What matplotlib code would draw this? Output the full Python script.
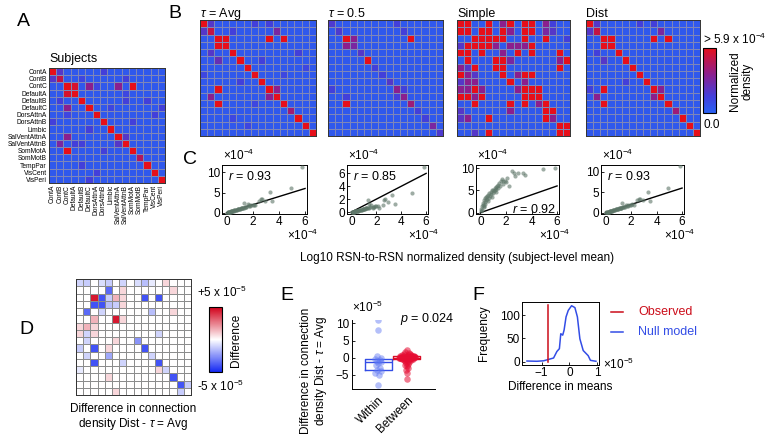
import numpy as np
import matplotlib
matplotlib.use('Agg')
import matplotlib.pyplot as plt
from matplotlib.colors import LinearSegmentedColormap, Normalize
from matplotlib.cm import ScalarMappable

plt.rcParams['font.family'] = ['Liberation Sans', 'DejaVu Sans']
plt.rcParams['mathtext.fontset'] = 'custom'
plt.rcParams['mathtext.rm'] = 'Liberation Sans'
plt.rcParams['mathtext.it'] = 'Liberation Sans:italic'
plt.rcParams['xtick.direction'] = 'in'
plt.rcParams['ytick.direction'] = 'in'
plt.rcParams['xtick.major.size'] = 2.5
plt.rcParams['ytick.major.size'] = 2.5
plt.rcParams['xtick.major.width'] = 0.6
plt.rcParams['ytick.major.width'] = 0.6
plt.rcParams['axes.linewidth'] = 0.7

# ---------------- data ----------------
networks = ['ContA', 'ContB', 'ContC', 'DefaultA', 'DefaultB', 'DefaultC', 'DorsAttnA',
            'DorsAttnB', 'Limbic', 'SalVentAttnA', 'SalVentAttnB', 'SomMotA', 'SomMotB',
            'TempPar', 'VisCent', 'VisPeri']

# normalized density, units of 1e-5 (colour scale saturates at 59)
subjects = [
    [60,20,4,4,4,4,4,15,4,4,4,4,4,4,4,4],
    [20,48,4,4,12,4,4,4,4,4,15,4,4,4,4,4],
    [4,4,60,55,4,35,12,4,4,35,4,60,4,4,4,4],
    [4,4,55,60,4,4,4,4,4,4,12,4,4,4,4,4],
    [4,15,4,4,60,4,4,4,4,4,15,4,4,15,4,4],
    [4,4,35,4,4,60,4,4,12,4,4,4,4,4,4,15],
    [4,4,12,4,4,4,60,4,4,4,4,4,4,4,15,4],
    [15,4,4,4,4,4,4,60,4,4,4,15,4,4,4,4],
    [4,4,4,4,4,15,4,4,60,4,4,4,4,4,4,4],
    [4,4,35,4,4,4,4,4,4,60,20,4,4,4,4,4],
    [4,30,4,15,15,4,4,4,4,20,60,4,4,4,4,4],
    [4,4,60,4,4,4,4,15,4,4,4,60,4,4,4,4],
    [4,4,4,4,4,4,4,4,4,4,4,4,45,4,4,4],
    [4,4,4,4,15,4,4,4,4,4,4,4,4,60,4,4],
    [4,4,4,4,4,4,15,4,4,4,4,4,4,4,60,4],
    [4,4,4,4,4,15,4,4,4,4,4,4,4,4,4,60]]

tau_avg = [
    [60,20,4,4,4,4,4,15,4,15,4,4,4,4,4,4],
    [20,50,4,4,15,4,4,4,4,4,30,4,4,4,4,4],
    [4,4,60,60,4,4,4,4,4,60,4,60,4,4,4,4],
    [4,4,60,60,4,4,4,4,4,4,4,4,4,4,4,4],
    [4,20,4,4,60,4,4,4,4,4,4,4,4,15,4,4],
    [4,4,25,4,4,60,4,4,15,4,4,4,4,4,4,4],
    [4,4,4,4,4,4,60,4,4,4,4,4,4,4,12,4],
    [12,4,4,4,4,4,4,60,4,4,4,12,4,4,4,4],
    [4,4,4,4,4,15,4,4,60,4,4,4,4,4,4,4],
    [4,4,60,4,4,4,4,4,4,60,35,4,4,4,4,4],
    [4,35,4,4,4,4,4,4,4,35,60,4,4,4,4,4],
    [4,4,60,4,4,4,4,12,4,4,4,60,4,4,4,4],
    [4,4,4,4,4,4,4,4,4,4,4,4,40,4,4,4],
    [4,4,4,4,12,4,4,4,4,4,4,4,4,60,4,4],
    [4,4,4,4,4,4,12,4,4,4,4,4,4,4,60,4],
    [4,4,4,4,4,4,4,4,4,4,4,4,4,4,4,60]]

tau_05 = [
    [18,4,4,4,4,4,4,4,4,15,4,4,4,4,4,4],
    [4,18,4,4,4,4,4,4,4,4,15,4,4,4,4,4],
    [4,4,60,35,4,4,4,4,4,4,4,60,4,4,4,4],
    [4,4,35,30,4,4,4,4,4,4,4,4,4,4,4,4],
    [4,4,4,4,20,4,4,4,4,4,4,4,4,4,4,4],
    [4,4,4,4,4,60,4,4,4,4,4,4,4,4,4,4],
    [4,4,4,4,4,4,15,4,4,4,4,4,4,4,4,4],
    [4,4,4,4,4,4,4,15,4,4,4,4,4,4,4,4],
    [4,4,4,4,4,4,4,4,20,4,4,4,4,4,4,4],
    [15,4,4,4,4,4,4,4,4,35,15,4,4,4,4,4],
    [4,4,15,4,4,4,4,4,4,15,35,4,4,4,4,4],
    [4,4,60,4,4,4,4,4,4,4,4,40,4,4,4,4],
    [4,4,4,4,4,4,4,4,4,4,4,4,15,4,4,4],
    [4,4,4,4,4,4,4,4,4,4,4,4,4,15,4,4],
    [4,4,4,4,4,4,4,4,4,4,4,4,4,4,30,4],
    [4,4,4,4,4,4,4,4,4,4,4,4,4,4,4,18]]

simple = [
    [60,60,4,4,60,4,35,60,4,60,60,4,35,15,4,4],
    [60,60,4,60,60,4,60,35,4,60,60,4,30,20,4,4],
    [4,4,60,60,60,60,60,4,4,60,4,4,60,4,4,15],
    [20,60,60,60,60,35,4,35,35,35,60,4,4,4,4,4],
    [60,60,4,60,4,4,35,4,60,4,60,4,4,4,60,4],
    [4,60,4,4,4,60,60,30,4,4,4,4,4,4,35,60],
    [35,20,60,4,4,60,60,4,4,4,4,4,4,4,60,4],
    [60,35,20,4,4,4,60,4,35,60,60,4,4,4,4,4],
    [20,35,35,4,4,4,4,60,4,35,4,4,4,4,4,4],
    [35,35,60,35,4,4,4,4,35,60,60,60,4,4,4,4],
    [60,60,35,60,4,4,4,4,4,60,60,60,4,4,4,4],
    [4,4,60,4,4,4,4,60,4,60,4,35,60,4,4,4],
    [20,4,4,4,4,4,4,35,4,4,4,4,60,60,4,4],
    [20,35,4,4,60,4,4,4,4,4,4,4,60,35,4,4],
    [4,4,4,4,4,4,4,4,4,4,4,4,4,4,60,60],
    [4,4,20,4,60,4,4,4,4,4,4,4,4,4,60,60]]

dist = [
    [60,20,4,4,4,4,4,15,4,15,4,4,4,4,4,4],
    [20,50,4,4,4,4,4,4,4,4,30,4,4,4,4,4],
    [4,4,60,60,4,4,4,4,4,60,4,60,4,4,4,4],
    [4,4,60,60,4,4,4,4,4,4,4,4,4,4,4,4],
    [4,15,4,4,60,4,4,4,4,4,4,4,4,4,4,4],
    [4,4,20,4,4,60,4,4,4,4,4,4,4,4,4,4],
    [4,4,4,4,4,4,60,4,4,4,4,4,4,4,4,4],
    [4,4,4,4,4,4,4,60,4,4,4,4,4,4,4,4],
    [4,4,4,4,4,15,4,4,60,4,4,4,4,4,4,4],
    [15,4,60,4,4,4,4,4,4,60,35,4,4,4,4,4],
    [4,35,4,4,4,4,4,4,4,35,60,4,4,4,4,4],
    [4,4,60,4,4,4,4,4,4,4,4,60,4,4,4,4],
    [4,4,4,4,4,4,4,4,4,4,4,4,40,4,4,4],
    [4,4,4,4,4,4,4,4,4,4,4,4,4,60,4,4],
    [4,4,4,4,4,4,4,4,4,4,4,4,4,4,60,4],
    [4,4,4,4,4,4,4,4,4,4,4,4,4,4,4,60]]

# difference Dist - tau=Avg, units of 1e-6 (colour range +-50)
diff = [
    [-10,-12,0,-8,-12,0,-10,0,-8,-15,-5,0,8,0,0,0],
    [0,0,0,0,-35,0,8,0,0,0,0,0,0,8,0,0],
    [0,0,45,-40,-12,15,8,0,0,-40,0,-40,0,0,0,0],
    [0,0,-40,-40,-15,-12,8,0,0,0,0,0,0,0,0,0],
    [0,-35,0,-10,0,0,0,0,0,0,-15,0,0,8,0,0],
    [0,0,15,0,0,45,8,0,0,0,0,0,0,0,0,0],
    [8,15,8,0,0,0,0,0,0,0,0,0,0,0,0,0],
    [8,-10,8,0,0,0,0,0,0,0,0,-10,0,0,0,0],
    [0,-10,0,0,0,8,0,0,-25,0,0,0,0,0,0,0],
    [-12,0,-40,0,8,0,0,0,0,-40,0,0,0,0,0,0],
    [0,-10,0,0,-20,0,0,0,0,0,-10,0,0,0,0,0],
    [0,0,-40,0,0,0,-10,0,0,0,0,-40,0,0,0,0],
    [-5,0,0,0,0,0,0,0,0,0,0,8,-10,0,0,0],
    [0,0,0,0,8,0,0,0,0,0,0,0,0,-40,0,0],
    [0,0,0,0,0,0,0,0,0,0,0,0,0,0,-40,-12],
    [0,0,0,0,0,8,0,0,0,0,0,0,0,0,-12,0]]

# scatter (units 1e-4): subject-level mean vs model
subj_mean = [0.05,0.08,0.12,0.15,0.18,0.22,0.25,0.28,0.32,0.35,0.38,0.42,0.45,0.5,0.55,0.6,0.65,
             0.7,0.75,0.8,0.85,0.9,0.95,1.0,1.05,1.1,1.15,1.2,1.25,1.3,1.35,1.4,1.5,1.6,1.7,1.8,
             1.9,2.0,2.1,2.2,0.3,0.6,0.9,1.2,2.5,2.7,2.9,3.3,3.5,4.9,5.8,1.45,2.6,1.75]
model_avg = [0.05,0.1,0.12,0.15,0.2,0.22,0.3,0.3,0.35,0.4,0.38,0.45,0.5,0.5,0.55,0.62,0.6,
             0.7,0.75,0.8,0.85,0.88,0.95,1.0,1.0,1.1,1.1,1.15,1.3,2.3,1.3,1.4,1.5,2.1,1.6,1.7,
             2.0,1.8,2.0,1.9,0.28,0.58,0.9,1.2,3.0,3.4,3.0,5.2,2.8,6.1,11.3,1.45,3.3,1.9]
model_05 = [0.02,0.03,0.04,0.05,0.05,0.06,0.08,0.1,0.1,0.12,0.15,0.15,0.18,0.2,0.22,0.25,0.28,
            0.3,0.3,0.35,0.38,0.4,0.45,0.5,0.5,0.55,0.6,0.6,0.65,1.8,0.7,0.7,0.75,1.1,0.8,0.85,
            0.9,0.9,1.0,0.6,0.12,0.25,0.45,0.6,1.1,2.0,1.6,2.7,1.3,3.0,7.0,1.2,1.8,0.7]
model_simple = [0.3,0.9,1.4,0.6,1.8,2.2,1.2,2.8,2.0,3.2,2.5,3.5,2.9,3.8,3.0,4.0,3.4,
                4.4,3.8,4.6,4.2,5.0,4.5,5.2,4.8,5.5,5.0,5.8,5.3,6.0,5.6,6.2,5.9,7.0,7.5,6.5,
                7.2,6.8,7.8,6.0,1.6,2.6,3.6,4.6,9.3,8.2,9.0,9.0,8.5,9.8,10.0,6.6,8.8,7.1]
model_dist = [0.05,0.08,0.1,0.14,0.2,0.25,0.28,0.3,0.33,0.4,0.42,0.45,0.48,0.52,0.55,0.6,0.66,
              0.7,0.75,0.82,0.85,0.9,0.98,1.0,1.05,1.1,1.15,1.2,1.25,2.3,1.35,1.4,1.5,2.0,1.6,1.7,
              2.0,1.8,2.1,1.9,0.3,0.6,0.9,1.2,3.0,3.4,3.0,5.1,2.9,5.9,11.3,1.45,3.3,1.9]
r_values = ['0.93', '0.85', '0.92', '0.93']

# E: differences (units 1e-5), with horizontal offsets
within_vals = [11.0, 8.0, 0.4, -0.2, -0.3, -0.6, -0.9, -1.1, -1.5, -2.0, -3.0, -3.6, -3.9, -4.3, -5.0, -8.0]
within_off = [0.0, 0.0, -0.05, 0.08, -0.1, 0.05, -0.03, 0.1, 0.0, -0.08, 0.06, -0.05, 0.1, -0.1, 0.03, 0.0]
between_pts = [(0.0, 2.3), (-0.1, 1.8), (0.12, 1.5), (0.2, 1.2), (-0.2, 1.0), (0.3, 0.9), (-0.3, 0.8),
               (0.1, 0.7), (0.4, 0.6), (-0.4, 0.5), (0.0, 0.5), (0.25, 0.4), (-0.15, 0.4), (0.45, 0.3),
               (-0.45, 0.3), (0.35, 0.2), (-0.3, 0.2), (0.1, 0.1), (-0.1, 0.1), (0.5, 0.1), (0.2, 0.0),
               (-0.2, 0.0), (0.4, 0.0), (-0.4, 0.0), (0.3, -0.1), (-0.35, -0.1), (0.0, -0.1),
               (0.15, -0.2), (-0.25, -0.2), (0.4, -0.3), (-0.1, -0.3), (0.2, -0.4), (-0.3, -0.4),
               (0.0, -0.5), (0.25, -0.6), (-0.2, -0.7), (0.1, -0.8), (-0.1, -1.0), (0.15, -1.2),
               (-0.05, -1.5), (0.05, -1.8), (-0.1, -2.0), (0.0, -2.5), (0.05, -3.0), (-0.05, -3.6),
               (0.0, -4.5), (0.0, -6.2), (0.45, 0.6), (0.5, 0.2), (-0.5, -0.2), (0.3, 0.05),
               (-0.45, -0.05), (0.1, 0.35), (-0.05, -0.35)]
p_value = '0.024'

# F: null distribution of difference in means (x units 1e-5)
null_x = [-1.53, -1.17, -0.93, -0.75, -0.57, -0.45, -0.36, -0.31, -0.24, -0.19, -0.12, -0.04,
          0.08, 0.2, 0.29, 0.38, 0.5, 0.68, 0.76, 0.86, 0.96]
null_y = [1.5, 1, 2, 5, 8, 22, 28, 60, 57, 68, 96, 110, 120, 116, 96, 49, 24, 13, 3, 2, 1]
observed = -0.76
observed_height = 121

# ---------------- figure ----------------
W, H = 770, 442
fig = plt.figure(figsize=(7.7, 4.42), dpi=100)


def axpx(l, t, r, b):
    return fig.add_axes([l / W, 1 - b / H, (r - l) / W, (b - t) / H])


def ftext(x, y, s, **kw):
    return fig.text(x / W, 1 - y / H, s, **kw)


cmapB = LinearSegmentedColormap.from_list('bd', [(0, (0.16, 0.38, 0.95)), (0.25, (0.26, 0.25, 0.86)),
                                                 (0.6, (0.55, 0.12, 0.55)), (1, (0.9, 0.06, 0.1))])
cmapD = LinearSegmentedColormap.from_list('dd', [(0, (0.08, 0.16, 0.95)), (0.5, (1, 1, 1)),
                                                 (1, (0.82, 0.0, 0.1))])


def draw_mat(ax, M, cmap, vmin, vmax, edge, lw):
    ax.pcolormesh(np.array(M, dtype=float), cmap=cmap, vmin=vmin, vmax=vmax,
                  edgecolors=edge, linewidth=lw)
    ax.set_xlim(0, 16)
    ax.set_ylim(16, 0)
    ax.set_xticks([])
    ax.set_yticks([])
    for s in ax.spines.values():
        s.set_color('#333333')
        s.set_linewidth(0.7)


# Panel labels
for lab, (x, y) in {'A': (23, 22), 'B': (175, 14), 'C': (190, 160), 'D': (26, 330),
                    'E': (287, 295), 'F': (478, 295)}.items():
    ftext(x, y, lab, fontsize=14, ha='center', va='center')

# ---- A ----
axA = axpx(49, 68, 165, 183)
draw_mat(axA, subjects, cmapB, 0, 59, '#7f86b8', 0.6)
axA.set_xticks(np.arange(16) + 0.5)
axA.set_yticks(np.arange(16) + 0.5)
axA.set_xticklabels(networks, rotation=90, fontsize=4.8)
axA.set_yticklabels(networks, fontsize=4.8)
axA.tick_params(length=0, pad=1.5)
ftext(49, 62, 'Subjects', fontsize=9, ha='left', va='baseline')

# ---- B ----
b_pos = [(200, 20, 316, 136), (328, 20, 443, 136), (457, 20, 570, 136), (586, 20, 700, 136)]
b_mats = [tau_avg, tau_05, simple, dist]
b_titles = [r'$\tau$ = Avg', r'$\tau$ = 0.5', 'Simple', 'Dist']
for pos, M, ttl in zip(b_pos, b_mats, b_titles):
    ax = axpx(*pos)
    draw_mat(ax, M, cmapB, 0, 59, '#7f86b8', 0.6)
    ftext(pos[0], 17, ttl, fontsize=9, ha='left', va='baseline')

caxB = axpx(703, 48, 716, 113)
cb = fig.colorbar(ScalarMappable(norm=Normalize(0, 59), cmap=cmapB), cax=caxB, ticks=[])
cb.outline.set_linewidth(0.8)
ftext(703, 44, '> 5.9 x 10$^{-4}$', fontsize=8.5, ha='left', va='baseline')
ftext(703, 125, '0.0', fontsize=8.5, ha='left', va='center')
ftext(741, 81, 'Normalized\ndensity', fontsize=8.5, rotation=90, ha='center', va='center',
      multialignment='center', linespacing=1.0)

# ---- C ----
c_pos = [(222, 165, 307, 214), (347, 165, 428, 214), (476, 165, 559, 214), (601, 165, 684, 214)]
c_models = [model_avg, model_05, model_simple, model_dist]
c_ylims = [(-0.3, 11.8), (-0.3, 7.3), (-0.3, 10.7), (-0.3, 11.6)]
c_yticks = [[0, 5, 10], [0, 2, 4, 6], [0, 5, 10], [0, 5, 10]]
for i, (pos, ym) in enumerate(zip(c_pos, c_models)):
    ax = axpx(*pos)
    ax.scatter(subj_mean, ym, s=9, color='#5d7668', alpha=0.6, linewidths=0, zorder=3)
    ax.plot([0, 6], [0, 6], color='k', lw=1.0, zorder=2)
    ax.set_xlim(-0.35, 6.15)
    ax.set_ylim(*c_ylims[i])
    ax.set_xticks([0, 2, 4, 6])
    ax.set_yticks(c_yticks[i])
    ax.tick_params(labelsize=8.5, pad=1.5)
    if i == 2:
        ax.text(0.97, 0.1, '$r$ = ' + r_values[i], transform=ax.transAxes, fontsize=9,
                ha='right', va='center')
    else:
        ax.text(0.07, 0.77, '$r$ = ' + r_values[i], transform=ax.transAxes, fontsize=9,
                ha='left', va='center')
    ftext(pos[0] + 1, 160, '×10$^{-4}$', fontsize=8.5, ha='left', va='baseline')
    ftext(pos[2] - 20, 240, '×10$^{-4}$', fontsize=8.5, ha='left', va='baseline')
ftext(457, 258, 'Log10 RSN-to-RSN normalized density (subject-level mean)', fontsize=8.5,
      ha='center', va='center')

# ---- D ----
axD = axpx(76, 279, 191, 395)
draw_mat(axD, diff, cmapD, -50, 50, '#8c8c8c', 0.55)
caxD = axpx(209, 307, 222, 372)
cbD = fig.colorbar(ScalarMappable(norm=Normalize(-50, 50), cmap=cmapD), cax=caxD, ticks=[])
cbD.outline.set_linewidth(0.8)
ftext(197, 297, '+5 x 10$^{-5}$', fontsize=8.5, ha='left', va='baseline')
ftext(197, 391, '-5 x 10$^{-5}$', fontsize=8.5, ha='left', va='baseline')
ftext(236, 340, 'Difference', fontsize=8.5, rotation=90, ha='center', va='center')
ftext(133, 409, 'Difference in connection', fontsize=8.5, ha='center', va='center')
ftext(133, 424, r'density Dist - $\tau$ = Avg', fontsize=8.5, ha='center', va='center')

# ---- E ----
axE = axpx(352, 320, 435, 389)
blue_pt = (0.35, 0.45, 0.95)
red_pt = (0.9, 0.05, 0.2)
axE.scatter(1 + np.array(within_off), within_vals, s=22, color=blue_pt, alpha=0.45,
            linewidths=0, zorder=3)
by = [p[1] for p in between_pts]
axE.scatter(2 + np.array([p[0] for p in between_pts]) * 0.55, by, s=22, color=red_pt,
            alpha=0.55, linewidths=0, zorder=3)
bp = axE.boxplot([within_vals, by], positions=[1, 2], widths=0.95, whis=0, showcaps=False,
                 showfliers=False, patch_artist=False)
for k, col in enumerate([(0.2, 0.3, 0.9), (0.85, 0.05, 0.15)]):
    bp['boxes'][k].set_color(col)
    bp['boxes'][k].set_linewidth(1.0)
    bp['medians'][k].set_color(col)
    bp['medians'][k].set_linewidth(1.0)
    for w in bp['whiskers'][2 * k:2 * k + 2]:
        w.set_visible(False)
axE.set_xlim(0.08, 2.99)
axE.set_ylim(-9.1, 11)
axE.set_yticks([-5, 0, 5, 10])
axE.set_xticks([1, 2])
axE.set_xticklabels(['Within', 'Between'], rotation=45, ha='right', rotation_mode='anchor')
axE.tick_params(labelsize=8.5, pad=2)
axE.tick_params(axis='x', length=0, pad=4)
axE.spines['top'].set_visible(False)
axE.spines['right'].set_visible(False)
ftext(352, 312, '×10$^{-5}$', fontsize=8.5, ha='left', va='baseline')
ftext(400, 319, '$p$ = ' + p_value, fontsize=9, ha='left', va='center')
ftext(306, 371, 'Difference in connection', fontsize=8.5, rotation=90, ha='center', va='center')
ftext(321, 371, r'density Dist - $\tau$ = Avg', fontsize=8.5, rotation=90, ha='center',
      va='center')

# ---- F ----
axF = axpx(522, 302, 599, 365)
obs_col = (0.8, 0.05, 0.1)
null_col = (0.2, 0.3, 0.9)
axF.plot(null_x, null_y, color=null_col, lw=1.1)
axF.plot([observed, observed], [0, observed_height], color=obs_col, lw=1.1)
axF.set_xlim(-1.71, 1.07)
axF.set_ylim(-7, 128)
axF.set_xticks([-1, 0, 1])
axF.set_yticks([0, 50, 100])
axF.tick_params(labelsize=8.5, pad=1.5)
ftext(603, 369, '×10$^{-5}$', fontsize=8.5, ha='left', va='baseline')
ftext(560, 387, 'Difference in means', fontsize=8.5, ha='center', va='center')
ftext(484, 333, 'Frequency', fontsize=8.5, rotation=90, ha='center', va='center')
fig.add_artist(plt.Line2D([611 / W, 623 / W], [1 - 312 / H, 1 - 312 / H], color=obs_col, lw=1.1))
fig.add_artist(plt.Line2D([611 / W, 623 / W], [1 - 332 / H, 1 - 332 / H], color=null_col, lw=1.1))
ftext(638, 312, 'Observed', fontsize=9, color=obs_col, ha='left', va='center')
ftext(638, 332, 'Null model', fontsize=9, color=null_col, ha='left', va='center')

fig.savefig('out.png', dpi=100)
